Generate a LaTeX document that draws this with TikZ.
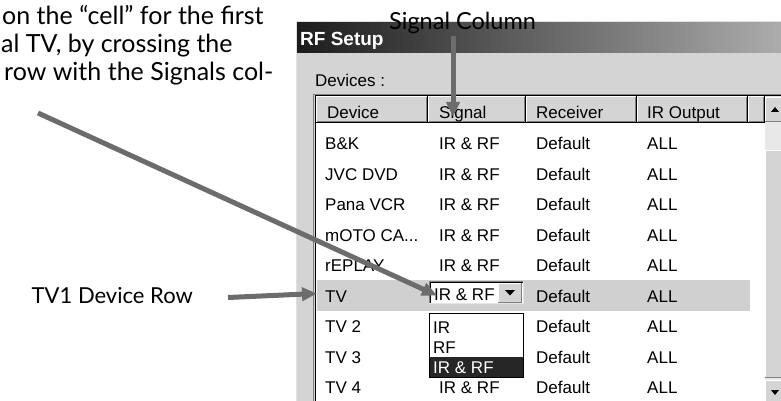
\documentclass[tikz,border=0pt]{standalone}
\usepackage{fontspec}
\usetikzlibrary{arrows.meta}
\newfontfamily\uifont{Liberation Sans}
\newfontfamily\notefont{Lato}
\newcommand\motolabel{mOTO CA...}
\definecolor{winbg}{HTML}{D4D4D4}
\definecolor{tbdark}{HTML}{1C1C1C}
\definecolor{tblight}{HTML}{ACACAC}
\definecolor{arrowgray}{HTML}{6C6C6C}
\definecolor{selrow}{HTML}{D0D0D0}
\definecolor{edgedark}{HTML}{808080}
\definecolor{dither}{HTML}{E8E8E8}
\tikzset{
  ui/.style={font=\uifont\fontsize{17}{20}\selectfont, inner sep=0pt, anchor=base west},
  uititle/.style={font=\uifont\bfseries\fontsize{19}{22}\selectfont, inner sep=0pt, anchor=base west, text=white},
  note/.style={font=\notefont\fontsize{25}{28}\selectfont, inner sep=0pt, anchor=base west},
  callout/.style={line width=5pt, draw=arrowgray, -{Triangle[length=15pt,width=13pt]}},
}
\begin{document}
\begin{tikzpicture}[x=1pt,y=-1pt]
\useasboundingbox (0,0) rectangle (781,401);
% window
\fill[winbg] (296,21) rectangle (781,401);
\draw[white!88!black, line width=1pt] (296.5,401) -- (296.5,21.5) -- (781,21.5);
\shade[left color=tbdark, right color=tblight] (297,23) rectangle (781,53);
\node[uititle] (title) at (300,46) {RF Setup};
\node[ui] (devlbl) at (315,87) {Devices :};
% list box
\fill[white] (316,96) rectangle (781,401);
\draw[edgedark, line width=1pt] (313.5,401) -- (313.5,94.5) -- (781,94.5);
\draw[black, line width=1pt] (315.5,401) -- (315.5,95.5) -- (781,95.5);
% header cells
\foreach \a/\b in {316/428,428/526,526/637,637/748,748/765}{
  \fill[winbg] (\a,96) rectangle (\b,123);
  \draw[white, line width=1pt] (\a+0.5,122) -- (\a+0.5,96.5) -- (\b-1,96.5);
  \draw[edgedark, line width=1pt] (\a+1,121.5) -- (\b-1.5,121.5) -- (\b-1.5,97);
  \draw[black, line width=1pt] (\a,122.5) -- (\b-0.5,122.5) -- (\b-0.5,96);
}
\node[ui] (hdev) at (327,118.5) {Device};
\node[ui] (hsig) at (439,118.5) {Signal};
\node[ui] (hrec) at (536,118.5) {Receiver};
\node[ui] (hir)  at (647,118.5) {IR Output};
% selected row
\fill[selrow] (317,280) rectangle (750,311);
% rows
\foreach \n/\d [count=\i from 0] in {bk/B\&K,jvc/JVC DVD,pana/Pana VCR,moto/\motolabel,replay/rEPLAY,tv/TV,tvb/TV 2,tvc/TV 3,tvd/TV 4}{
  \pgfmathsetmacro{\yb}{149.5+30.5*\i}
  \node[ui] (dev-\n) at (325,\yb) {\d};
  \node[ui] (rec-\n) at (536,\yb) {Default};
  \node[ui] (out-\n) at (647,\yb) {ALL};
}
\foreach \n [count=\i from 0] in {bk,jvc,pana,moto,replay}{
  \pgfmathsetmacro{\yb}{149.5+30.5*\i}
  \node[ui] (sig-\n) at (439,\yb) {IR \& RF};
}
\node[ui] (sig-tvd) at (439,393.5) {IR \& RF};
% scrollbar
\fill[dither] (765,96) rectangle (781,401);
\fill[winbg] (765,97) rectangle (781,122);
\draw[white, line width=1pt] (765.5,122) -- (765.5,97.5) -- (781,97.5);
\draw[edgedark, line width=1pt] (765,121.5) -- (781,121.5);
\fill[winbg] (765,150) rectangle (781,378);
\draw[white, line width=1pt] (765.5,378) -- (765.5,150.5) -- (781,150.5);
\draw[edgedark, line width=1pt] (765,377.5) -- (781,377.5);
\fill[winbg] (765,380) rectangle (781,401);
\draw[white, line width=1pt] (765.5,401) -- (765.5,380.5) -- (781,380.5);
\fill[black] (771,390) -- (779,390) -- (775,395) -- cycle;
\fill[black] (771,112) -- (779,112) -- (775,107) -- cycle;
% combo box in TV row
\fill[white] (429,281) rectangle (524,304);
\draw[edgedark, line width=1pt] (429.5,304) -- (429.5,281.5) -- (524,281.5);
\draw[black, line width=1pt] (430.5,303) -- (430.5,282.5) -- (523,282.5);
\draw[white!90!black, line width=1pt] (429,303.5) -- (523.5,303.5) -- (523.5,281);
\node[ui] (combo) at (434,300) {IR \& RF};
\fill[winbg] (498,283) rectangle (522,303);
\draw[edgedark, line width=1pt] (498,302.5) -- (521.5,302.5) -- (521.5,283);
\draw[white, line width=1pt] (498.5,302) -- (498.5,283.5) -- (521,283.5);
\fill[black] (505,290) -- (515,290) -- (510,295.5) -- cycle;
% dropdown list
\fill[white] (429,313) rectangle (524,378);
\fill[black!85] (430,357) rectangle (523,377);
\draw[black, line width=1pt] (429.5,313.5) rectangle (523.5,377.5);
\node[ui] (optir) at (433,333.5) {IR};
\node[ui] (optrf) at (433,353.5) {RF};
\node[ui, text=white] (optirrf) at (433,373.5) {IR \& RF};
% annotations
\node[note] (cap1) at (2,25) {on the “cell” for the first};
\node[note] (cap2) at (1,53) {al TV, by crossing the};
\node[note] (cap3) at (4,80.5) {row with the Signals col-};
\node[note, font=\notefont\fontsize{23.5}{28}\selectfont] (sigcol) at (389,30) {Signal Column};
\node[note, anchor=base east, font=\notefont\fontsize{22}{26}\selectfont] (tvrow) at (193,303) {TV1 Device Row};
\coordinate (capend) at (38,113);
\coordinate (celltip) at (437,295.5);
\coordinate (sigstart) at (453,36);
\coordinate (sigtip) at (453,117);
\coordinate (rowstart) at (228,297.5);
\coordinate (rowtip) at (317,293.5);
\draw[callout] (sigstart) -- (sigtip);
\draw[callout] (capend) -- (celltip);
\draw[callout] (rowstart) -- (rowtip);
\end{tikzpicture}
\end{document}
